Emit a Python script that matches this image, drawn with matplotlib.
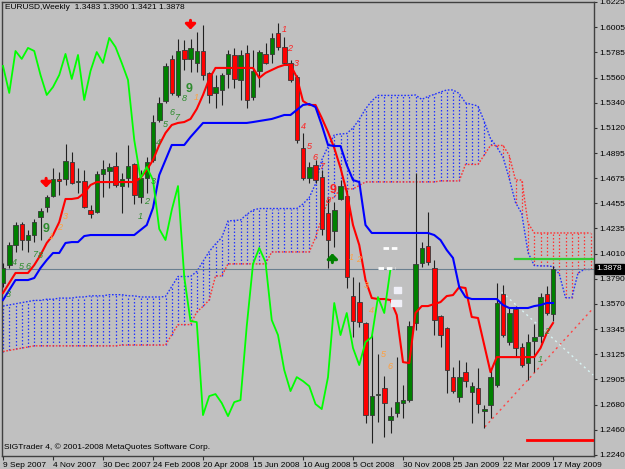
import numpy as np
import matplotlib
matplotlib.use("Agg")
import matplotlib.pyplot as plt

plt.rcParams['font.family'] = ['Liberation Sans Narrow', 'Liberation Sans', 'DejaVu Sans']

# weekly EURUSD candles, 9 Sep 2007 .. 17 May 2009
opens = [1.3753, 1.3911, 1.4087, 1.4272, 1.4131, 1.4175, 1.4333, 1.4421, 1.4518, 1.4668,
         1.4668, 1.4817, 1.4645, 1.4650, 1.4395, 1.4377, 1.4712, 1.4738, 1.4782, 1.4606,
         1.4677, 1.4800, 1.4509, 1.4677, 1.4835, 1.5187, 1.5354, 1.5724, 1.5407, 1.5803,
         1.5724, 1.5689, 1.5794, 1.5601, 1.5425, 1.5451, 1.5592, 1.5759, 1.5539, 1.5777,
         1.5389, 1.5618, 1.5768, 1.5768, 1.5953, 1.5829, 1.5689, 1.5565, 1.4941, 1.4677,
         1.4791, 1.4685, 1.4369, 1.4210, 1.4492, 1.4518, 1.3638, 1.3585, 1.3400, 1.2591,
         1.2770, 1.2829, 1.2547, 1.2609, 1.2697, 1.2723, 1.3401, 1.3929, 1.4078, 1.3885,
         1.3462, 1.3357, 1.2925, 1.2749, 1.2969, 1.2793, 1.2829, 1.2627, 1.2679, 1.2855,
         1.3656, 1.3233, 1.3524, 1.3189, 1.3049, 1.3242, 1.3286, 1.3656, 1.3483]
highs = [1.3929, 1.4113, 1.4289, 1.4289, 1.4219, 1.4316, 1.4413, 1.4527, 1.4765, 1.4729,
         1.4976, 1.4905, 1.4765, 1.4747, 1.4439, 1.4738, 1.4835, 1.4809, 1.4905, 1.4721,
         1.4967, 1.4809, 1.4747, 1.4861, 1.5231, 1.5389, 1.5689, 1.5759, 1.5900, 1.5891,
         1.5900, 1.5961, 1.6023, 1.5609, 1.5583, 1.5601, 1.5803, 1.5821, 1.5803, 1.5847,
         1.5803, 1.5803, 1.5865, 1.5953, 1.6041, 1.5917, 1.5715, 1.5583, 1.5073, 1.4817,
         1.4835, 1.4747, 1.4501, 1.4465, 1.4659, 1.4571, 1.3805, 1.3761, 1.3409, 1.3295,
         1.3128, 1.2934, 1.2661, 1.3101, 1.2855, 1.3418, 1.4721, 1.4113, 1.4377, 1.3955,
         1.3471, 1.3365, 1.3013, 1.3075, 1.3057, 1.2881, 1.3005, 1.2679, 1.3005, 1.3753,
         1.3735, 1.3533, 1.3550, 1.3225, 1.3304, 1.3392, 1.3665, 1.3726, 1.3900]
lows = [1.3717, 1.3885, 1.4025, 1.4043, 1.4025, 1.4113, 1.4131, 1.4377, 1.4509, 1.4527,
        1.4615, 1.4624, 1.4545, 1.4413, 1.4325, 1.4369, 1.4509, 1.4589, 1.4597, 1.4369,
        1.4597, 1.4448, 1.4457, 1.4545, 1.4817, 1.5169, 1.5337, 1.5407, 1.5389, 1.5627,
        1.5609, 1.5609, 1.5539, 1.5337, 1.5293, 1.5319, 1.5469, 1.5469, 1.5363, 1.5293,
        1.5363, 1.5477, 1.5680, 1.5689, 1.5803, 1.5671, 1.5521, 1.4985, 1.4659, 1.4633,
        1.4633, 1.4175, 1.3885, 1.4069, 1.4483, 1.3709, 1.3277, 1.3365, 1.2521, 1.2345,
        1.2529, 1.2397, 1.2433, 1.2573, 1.2565, 1.2705, 1.3339, 1.3893, 1.3911, 1.3295,
        1.3189, 1.2785, 1.2785, 1.2705, 1.2837, 1.2521, 1.2609, 1.2477, 1.2565, 1.2837,
        1.3277, 1.3207, 1.3101, 1.3013, 1.2899, 1.2969, 1.3225, 1.3471, 1.3421]
closes = [1.3885, 1.4087, 1.4263, 1.4131, 1.4175, 1.4289, 1.4386, 1.4509, 1.4668, 1.4650,
          1.4826, 1.4633, 1.4650, 1.4421, 1.4360, 1.4712, 1.4756, 1.4773, 1.4615, 1.4668,
          1.4782, 1.4527, 1.4677, 1.4817, 1.5169, 1.5337, 1.5662, 1.5425, 1.5794, 1.5724,
          1.5821, 1.5794, 1.5583, 1.5407, 1.5477, 1.5583, 1.5768, 1.5548, 1.5759, 1.5363,
          1.5618, 1.5785, 1.5689, 1.5909, 1.5829, 1.5689, 1.5539, 1.5011, 1.4677, 1.4773,
          1.4659, 1.4228, 1.4131, 1.4395, 1.4606, 1.3805, 1.3418, 1.3409, 1.2591, 1.2758,
          1.2776, 1.2697, 1.2582, 1.2705, 1.2723, 1.3374, 1.3920, 1.4061, 1.3937, 1.3427,
          1.3295, 1.2987, 1.2802, 1.2925, 1.2890, 1.2845, 1.2688, 1.2644, 1.2925, 1.3577,
          1.3295, 1.3489, 1.3181, 1.3031, 1.3233, 1.3277, 1.3629, 1.3489, 1.3878]

# Ichimoku lines
tenkan = [1.3665, 1.3753, 1.3841, 1.3841, 1.3841, 1.3911, 1.3999, 1.4105, 1.4175, 1.4289,
          1.4492, 1.4492, 1.4501, 1.4545, 1.4615, 1.4641, 1.4641, 1.4641, 1.4641, 1.4641,
          1.4641, 1.4641, 1.4677, 1.4747, 1.4835, 1.4967, 1.5073, 1.5143, 1.5161, 1.5169,
          1.5196, 1.5284, 1.5407, 1.5548, 1.5645, 1.5645, 1.5645, 1.5645, 1.5645, 1.5645,
          1.5645, 1.5557, 1.5601, 1.5627, 1.5653, 1.5671, 1.5671, 1.5565, 1.5354, 1.5319,
          1.5319, 1.5205, 1.5081, 1.4941, 1.4765, 1.4553, 1.4263, 1.4087, 1.3779, 1.3621,
          1.3612, 1.3612, 1.3603, 1.3471, 1.3057, 1.3049, 1.3489, 1.3550, 1.3550, 1.3568,
          1.3585, 1.3638, 1.3647, 1.3717, 1.3709, 1.3454, 1.3445, 1.3207, 1.2969, 1.3101,
          1.3101, 1.3101, 1.3101, 1.3101, 1.3101, 1.3101, 1.3181, 1.3313, 1.3401]
kijun = [1.3603, 1.3691, 1.3779, 1.3779, 1.3779, 1.3797, 1.3885, 1.3955, 1.4017, 1.4017,
         1.4105, 1.4113, 1.4113, 1.4166, 1.4175, 1.4175, 1.4175, 1.4175, 1.4175, 1.4175,
         1.4175, 1.4175, 1.4219, 1.4263, 1.4413, 1.4703, 1.4835, 1.4967, 1.4967, 1.4967,
         1.5037, 1.5099, 1.5161, 1.5161, 1.5161, 1.5161, 1.5161, 1.5161, 1.5161, 1.5161,
         1.5169, 1.5178, 1.5187, 1.5196, 1.5213, 1.5231, 1.5231, 1.5275, 1.5319, 1.5328,
         1.5301, 1.5143, 1.4967, 1.4958, 1.4958, 1.4791, 1.4659, 1.4641, 1.4263, 1.4193,
         1.4193, 1.4193, 1.4193, 1.4193, 1.4193, 1.4193, 1.4193, 1.4193, 1.4193, 1.4175,
         1.4131, 1.4043, 1.3973, 1.3717, 1.3629, 1.3612, 1.3612, 1.3612, 1.3612, 1.3612,
         1.3559, 1.3533, 1.3533, 1.3533, 1.3533, 1.3550, 1.3559, 1.3577, 1.3577]
senkou_a = [1.3550, 1.3560, 1.3570, 1.3580, 1.3590, 1.3600, 1.3600, 1.3610, 1.3610, 1.3620,
            1.3620, 1.3620, 1.3630, 1.3630, 1.3640, 1.3640, 1.3640, 1.3650, 1.3650, 1.3650,
            1.3640, 1.3640, 1.3630, 1.3630, 1.3630, 1.3630, 1.3634, 1.3722, 1.3810, 1.3810,
            1.3810, 1.3854, 1.3942, 1.4030, 1.4096, 1.4153, 1.4299, 1.4303, 1.4307, 1.4356,
            1.4395, 1.4408, 1.4408, 1.4408, 1.4408, 1.4408, 1.4408, 1.4408, 1.4448, 1.4505,
            1.4624, 1.4835, 1.4954, 1.5055, 1.5064, 1.5068, 1.5117, 1.5192, 1.5284, 1.5355,
            1.5403, 1.5403, 1.5403, 1.5403, 1.5403, 1.5403, 1.5407, 1.5368, 1.5394, 1.5412,
            1.5433, 1.5451, 1.5451, 1.5420, 1.5337, 1.5324, 1.5310, 1.5174, 1.5024, 1.4950,
            1.4862, 1.4672, 1.4461, 1.4364, 1.4021, 1.3907, 1.3903, 1.3903, 1.3898, 1.3832,
            1.3625, 1.3621, 1.3841, 1.3872, 1.3872]
senkou_b = [1.3150, 1.3160, 1.3170, 1.3180, 1.3190, 1.3200, 1.3200, 1.3200, 1.3200, 1.3200,
            1.3200, 1.3200, 1.3200, 1.3200, 1.3200, 1.3200, 1.3200, 1.3200, 1.3200, 1.3207,
            1.3207, 1.3207, 1.3207, 1.3207, 1.3207, 1.3207, 1.3207, 1.3299, 1.3387, 1.3387,
            1.3387, 1.3498, 1.3547, 1.3604, 1.3815, 1.3815, 1.3921, 1.3921, 1.3921, 1.3921,
            1.3921, 1.3921, 1.3921, 1.4026, 1.4026, 1.4026, 1.4026, 1.4026, 1.4026, 1.4026,
            1.4153, 1.4325, 1.4475, 1.4510, 1.4581, 1.4581, 1.4581, 1.4611, 1.4642, 1.4642,
            1.4642, 1.4642, 1.4642, 1.4642, 1.4642, 1.4642, 1.4642, 1.4642, 1.4642, 1.4642,
            1.4651, 1.4651, 1.4651, 1.4651, 1.4796, 1.4796, 1.4796, 1.4879, 1.4963, 1.4963,
            1.4963, 1.4875, 1.4659, 1.4659, 1.4281, 1.4193, 1.4193, 1.4193, 1.4193, 1.4193,
            1.4193, 1.4193, 1.4193, 1.4193, 1.4193]
chikou_shift = 26

# sequential counts written on the chart: (bar, price, text, colour)
td_bar = [0.8, 1.9, 3.0, 4.0, 5.0, 5.9, 6.9, 7.8, 9.0, 9.9,
          21.9, 22.9, 24.0, 24.8, 25.9, 27.0, 27.8, 29.0, 29.8, 31.0,
          45.0, 45.9, 47.0, 48.0, 49.0, 49.9, 50.9, 52.0, 52.8,
          55.8, 56.9, 58.1, 58.9, 60.8, 61.9, 85.9, 87.0]
td_price = [1.3648, 1.3929, 1.3894, 1.3894, 1.4008, 1.3999, 1.4228, 1.4158, 1.4237, 1.4334,
            1.4334, 1.4466, 1.4642, 1.4993, 1.5143, 1.5249, 1.5205, 1.5372, 1.5460, 1.5381,
            1.5987, 1.5812, 1.5680, 1.5134, 1.4958, 1.4861, 1.4774, 1.4483, 1.4571,
            1.3973, 1.3964, 1.3727, 1.3507, 1.3128, 1.3014, 1.3076, 1.3322]
td_text = ['3', '4', '5', '6', '7', '8', '9', '1', '2', '3',
           '1', '2', '3', '4', '5', '6', '7', '8', '9', '1',
           '1', '2', '3', '4', '5', '6', '7', '8', '9',
           '1', '2', '3', '4', '5', '6', '1', '2']
td_kind = ['g', 'g', 'g', 'g', 'g', 'g', 'g', 'o', 'o', 'o',
           'g', 'g', 'g', 'g', 'g', 'g', 'g', 'g', 'g', 'o',
           'r', 'r', 'r', 'r', 'r', 'r', 'r', 'r', 'r',
           'o', 'o', 'o', 'o', 'o', 'o', 'g', 'g']

y_ticks = [1.6225, 1.6005, 1.5785, 1.5560, 1.5340, 1.5120, 1.4895, 1.4675, 1.4455, 1.4235,
           1.4010, 1.3790, 1.3570, 1.3345, 1.3125, 1.2905, 1.2680, 1.2460, 1.2240]
x_labels = ['9 Sep 2007', '4 Nov 2007', '30 Dec 2007', '24 Feb 2008', '20 Apr 2008',
            '15 Jun 2008', '10 Aug 2008', '5 Oct 2008', '30 Nov 2008', '25 Jan 2009',
            '22 Mar 2009', '17 May 2009']

BG = '#C0C0C0'
fig = plt.figure(figsize=(6.25, 4.69), dpi=100, facecolor=BG)
ax = fig.add_axes([2 / 625, 13 / 469, 592 / 625, 454 / 469], facecolor=BG)

o = np.array(opens); h = np.array(highs); l = np.array(lows); c = np.array(closes)
n = len(o)
idx = np.arange(n)

# cloud: one dotted vertical per bar, blue where A is on top, red otherwise
sa = np.array(senkou_a); sb = np.array(senkou_b)
cidx = np.arange(len(sa))
up = sa >= sb
ax.vlines(cidx[up], sb[up], sa[up], color='#2233FF', lw=0.9, linestyles=(0, (1.2, 1.6)), zorder=1)
ax.vlines(cidx[~up], sa[~up], sb[~up], color='#FF3333', lw=0.9, linestyles=(0, (1.2, 1.6)), zorder=1)
ax.plot(cidx, sa, color='#2233FF', lw=1, ls=(0, (1.2, 1.2)), zorder=1)
ax.plot(cidx, sb, color='#FF3333', lw=1, ls=(0, (1.2, 1.2)), zorder=1)

# last close line
ax.axhline(closes[-1], color='#6A7F8F', lw=0.8, zorder=2)

# candles
ax.vlines(idx, l, h, color='#202020', lw=0.8, zorder=4)
bull = c >= o
body = np.maximum(np.abs(c - o), 0.0005)
ax.bar(idx[bull], body[bull], bottom=o[bull], width=0.72, color='#008000',
       edgecolor='#383838', lw=0.6, zorder=5)
ax.bar(idx[~bull], body[~bull], bottom=c[~bull], width=0.72, color='#FF0000',
       edgecolor='#383838', lw=0.6, zorder=5)

# tenkan / kijun / chikou
ax.plot(idx, tenkan, color='#FF0000', lw=1.5, zorder=6)
ax.plot(idx, kijun, color='#0000FF', lw=1.5, zorder=6)
ax.plot(idx[:-chikou_shift], c[chikou_shift:], color='#00FF00', lw=1.3, zorder=6)

# extra objects drawn on the chart
ax.plot([81.9, 95], [1.3964, 1.3964], color='#33CC33', lw=1.6, zorder=3)
ax.plot([83.8, 95], [1.2372, 1.2372], color='#FF0000', lw=2, zorder=3)
ax.plot([77.1, 94.2], [1.2487, 1.3517], color='#FF4444', lw=1, ls=(0, (1.5, 2.5)), zorder=3)
ax.plot([79.8, 94.4], [1.3674, 1.2944], color='#D8F4F4', lw=1, ls=(0, (1.5, 2.5)), zorder=3)
ax.plot([60.8, 63.0], [1.4061, 1.4061], color='white', lw=2, ls=(0, (2, 1)), zorder=7)
ax.plot([60.0, 62.7], [1.3885, 1.3885], color='white', lw=2, ls=(0, (2, 1)), zorder=7)
ax.fill_between([62.6, 63.6], 1.3665, 1.3718, color='#F0F0F8', zorder=7)
ax.fill_between([62.0, 63.6], 1.3550, 1.3603, color='#F0F0F8', zorder=7)

colors = {'g': '#2E8B2E', 'o': '#FFA040', 'r': '#FF2020'}
for x, p, s, k in zip(td_bar, td_price, td_text, td_kind):
    big = s == '9' and k != 'o'
    ax.text(x, p, s, color=colors[k], fontsize=9 if big else 6.5,
            fontweight='bold' if big else 'normal', style='normal' if big else 'italic',
            ha='center', va='center', zorder=8)

# arrows
for x, p, col, d in [(6.9, 1.4633, '#FF0000', -1), (30.0, 1.6023, '#FF0000', -1),
                     (52.7, 1.3973, '#008000', 1)]:
    ax.annotate('', xy=(x, p + d * 0.0065), xytext=(x, p - d * 0.0065),
                arrowprops=dict(arrowstyle='-|>,head_width=0.3,head_length=0.3',
                                color=col, lw=2.2), zorder=8)

ax.set_xlim(-0.16, 94.56)
ax.set_ylim(1.2231, 1.6225)

ax.yaxis.tick_right()
ax.set_yticks(y_ticks)
ax.set_yticklabels([f'{v:.4f}' for v in y_ticks])
ax.set_xticks(np.arange(0, n, 8))
ax.set_xticklabels(x_labels)
for t in ax.get_xticklabels():
    t.set_ha('left')
ax.tick_params(axis='y', length=2.5, width=0.8, color='#303030', labelsize=6, pad=1)
ax.tick_params(axis='x', length=3, width=0.8, color='#303030', labelsize=6, pad=1.5)
for sp in ax.spines.values():
    sp.set_color('#404040')
    sp.set_linewidth(1)

ax.text(1.004, closes[-1], f'{closes[-1]:.4f}', transform=ax.get_yaxis_transform(),
        color='white', fontsize=6, va='center', ha='left',
        bbox=dict(fc='black', ec='black', pad=1.2), zorder=10)

ax.text(0.005, 0.987, 'EURUSD,Weekly  1.3483 1.3900 1.3421 1.3878', transform=ax.transAxes,
        fontsize=6, va='center', ha='left')
ax.text(0.003, 0.02, 'SIGTrader 4, \u00a9 2001-2008 MetaQuotes Software Corp.', transform=ax.transAxes,
        fontsize=6, va='center', ha='left')

fig.savefig('out.png', dpi=100, facecolor=BG)
